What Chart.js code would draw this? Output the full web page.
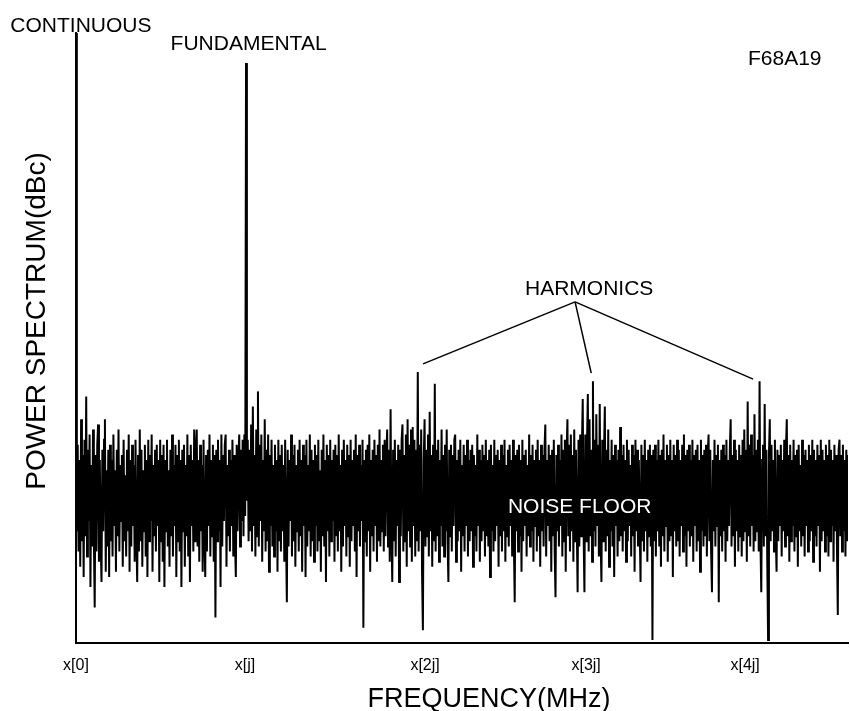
<!DOCTYPE html>
<html><head><meta charset="utf-8">
<script src="https://cdn.jsdelivr.net/npm/chart.js@4.4.1/dist/chart.umd.min.js"></script>
<style>html,body{margin:0;padding:0;background:#fff;}#wrap{width:850px;height:711px;position:relative;}</style>
</head><body><div id="wrap"><canvas id="c" width="850" height="711"></canvas></div>
<script>
// x axis in FFT bins (j = 100 bins), two samples per bin; y axis in dBc
const binMax = 454;
const samplesPerBin = 2;
const tickBins = [0, 99.4, 205.3, 300, 393.5];
const tickLabels = ['x[0]', 'x[j]', 'x[2j]', 'x[3j]', 'x[4j]'];
const yMin = -120, yMax = 0;

const powerDbc = [
 0,-98,-81,-102,-84,-105,-76,-100,-83,-107,-80,-99,-71.5,-103,-82,-96,-79,-109,-85,-101,
 -78,-99,-113,-83,-102,-81,-77,-104,-84,-100,-108,-82,-98,-80,-76,-106,-86,-101,-82,-107,
 -81,-100,-84,-103,-79,-97,-86,-106,-82,-99,-78,-102,-85,-96,-83,-105,-80,-100,-87,-103,
 -82,-98,-79,-106,-84,-101,-81,-97,-85,-104,-80,-99,-108,-83,-102,-78,-100,-82,-105,-86,
 -98,-81,-103,-84,-107,-80,-100,-83,-96,-79,-106,-85,-99,-82,-102,-81,-97,-84,-108,-80,
 -100,-83,-104,-81,-109,-84,-98,-80,-101,-86,-105,-82,-99,-79,-103,-85,-97,-81,-107,-83,
 -100,-80,-102,-84,-109,-82,-98,-81,-105,-85,-99,-79,-103,-83,-108,-81,-97,-84,-102,-78,
 -100,-82,-78,-101,-84,-104,-81,-98,-85,-106,-80,-99,-107,-83,-102,-82,-97,-79,-103,-84,
 -99,-81,-104,-83,-115,-82,-100,-80,-98,-84,-109,-79,-101,-83,-96,-81,-79,-105,-85,-99,
 -82,-102,-84,-97,-80,-103,-83,-100,-107,-81,-98,-84,-79,-101,-82,-96,-80,-99,-79,-95,
 -5.9,-92,-80,-100,-82,-98,-77,-102,-73.5,-97,-83,-103,-78,-99,-70.5,-101,-81,-96,-79,-104,
 -84,-98,-76,-102,-82,-100,-79,-106,-83,-97,-80,-101,-85,-103,-81,-98,-84,-106,-80,-100,
 -83,-102,-81,-98,-85,-104,-80,-99,-112,-82,-101,-84,-96,-79,-103,-83,-100,-81,-105,-85,
 -98,-82,-102,-80,-99,-84,-106,-81,-97,-83,-107,-80,-101,-85,-98,-79,-103,-82,-100,-84,
 -104,-81,-97,-83,-102,-80,-100,-86,-106,-82,-99,-79,-101,-84,-108,-81,-98,-83,-103,-80,
 -100,-84,-96,-82,-104,-81,-99,-83,-102,-79,-98,-85,-106,-82,-101,-80,-97,-84,-103,-81,
 -99,-83,-105,-80,-100,-84,-97,-82,-102,-79,-107,-83,-98,-81,-101,-85,-96,-80,-117,-84,
 -100,-82,-103,-81,-98,-79,-106,-84,-99,-82,-102,-80,-97,-83,-104,-81,-100,-78,-101,-84,
 -98,-81,-102,-80,-99,-83,-78,-101,-82,-104,-74,-98,-108,-82,-100,-80,-103,-84,-97,-81,
 -108,-82,-99,-80,-77,-102,-83,-100,-79,-105,-76,-98,-81,-101,-78,-104,-77.5,-97,-80,-103,
 -82,-100,-66.7,-102,-81,-98,-78,-106,-117.5,-84,-76,-101,-82,-99,-79,-103,-74.5,-98,-83,-105,
 -81,-100,-69,-102,-82,-99,-80,-104,-84,-97,-78,-101,-83,-103,-81,-98,-78,-100,-108,-82,
 -99,-81,-102,-83,-97,-80,-79,-104,-84,-100,-82,-98,-80,-106,-85,-99,-81,-102,-83,-97,
 -80,-103,-84,-100,-82,-98,-81,-105,-83,-99,-85,-102,-79,-97,-82,-104,-84,-100,-81,-98,
 -83,-103,-80,-99,-84,-101,-82,-107,-81,-98,-85,-102,-80,-100,-83,-97,-82,-105,-84,-99,
 -81,-102,-83,-98,-80,-104,-85,-99,-82,-101,-81,-97,-84,-103,-80,-100,-112,-83,-98,-82,
 -102,-81,-99,-84,-106,-80,-100,-83,-97,-82,-103,-85,-99,-79,-101,-83,-98,-81,-104,-84,
 -97,-82,-102,-80,-99,-84,-105,-81,-98,-83,-101,-82,-77,-103,-84,-97,-81,-100,-83,-106,
 -82,-99,-80,-102,-111,-83,-98,-81,-101,-84,-97,-79,-103,-82,-100,-80,-106,-83,-76,-99,
 -81,-102,-79,-98,-83,-104,-78,-100,-82,-97,-110,-80,-101,-79,-99,-82,-72,-98,-110,-79,
 -100,-81,-71,-102,-76,-99,-82,-104,-68.5,-98,-80,-101,-75,-97,-81,-103,-73,-99,-108,-80,
 -100,-83,-73.5,-102,-82,-99,-78,-105,-84,-98,-80,-101,-83,-107,-81,-97,-84,-103,-82,-100,
 -77.5,-99,-83,-102,-81,-98,-84,-104,-80,-100,-82,-97,-85,-103,-81,-99,-83,-106,-80,-98,
 -82,-101,-84,-97,-108,-81,-100,-83,-102,-80,-98,-84,-104,-82,-99,-81,-101,-83,-119.4,-82,
 -100,-81,-103,-84,-98,-80,-101,-83,-105,-82,-99,-79,-102,-84,-97,-81,-104,-83,-100,-80,
 -99,-84,-107,-81,-98,-83,-101,-80,-100,-82,-103,-84,-97,-81,-102,-79,-99,-83,-105,-82,
 -98,-81,-101,-84,-99,-80,-104,-83,-97,-82,-102,-81,-100,-84,-106,-80,-98,-83,-101,-82,
 -99,-81,-103,-83,-79,-100,-82,-102,-110,-84,-98,-80,-101,-83,-97,-81,-112,-84,-99,-82,
 -102,-81,-98,-83,-104,-80,-100,-84,-97,-82,-76,-101,-83,-99,-80,-105,-82,-98,-84,-102,
 -81,-99,-83,-103,-80,-100,-78,-98,-82,-104,-72.5,-99,-81,-101,-79,-97,-83,-102,-75,-100,
 -82,-98,-80,-102,-68.5,-100,-110,-84,-81,-101,-73,-99,-82,-103,-119.4,-83,-76,-100,-81,-98,
 -84,-102,-80,-99,-106,-82,-100,-83,-97,-81,-103,-84,-98,-80,-101,-82,-76,-99,-83,-104,
 -81,-100,-84,-97,-80,-102,-83,-99,-82,-105,-81,-98,-85,-101,-80,-99,-83,-103,-82,-97,
 -84,-102,-81,-100,-83,-98,-80,-104,-82,-99,-84,-101,-81,-97,-83,-106,-80,-100,-82,-98,
 -84,-102,-81,-99,-83,-103,-80,-100,-82,-97,-84,-104,-81,-98,-83,-101,-114.5,-82,-80,-99,
 -83,-102,-81,-98,-84,-103,-82,-100,-83
];

// annotation texts anchored in data coordinates (bin, dBc of text baseline)
const noteTexts = ['CONTINUOUS', 'FUNDAMENTAL', 'F68A19', 'HARMONICS', 'NOISE FLOOR'];
const noteBins  = [2.9, 101.5, 416.8, 301.8, 296.2];
const noteDbc   = [0.2, -3.34, -6.3, -51.5, -94.4];
const noteColor = ['#000', '#000', '#000', '#000', '#fff'];
// harmonic pointer lines: apex then three targets
const pointerBins = [293.5, 204.1, 303, 398.2];
const pointerDbc  = [-52.9, -65.1, -66.9, -68.1];

const xTitle = 'FREQUENCY(MHz)';
const yTitle = 'POWER SPECTRUM(dBc)';
const FONT = '"Liberation Sans", Arial, Helvetica, sans-serif';

const annotPlugin = {
  id: 'annot',
  afterDraw(chart) {
    const {ctx, chartArea, scales: {x, y}} = chart;
    ctx.save();
    ctx.textAlign = 'center';
    ctx.textBaseline = 'alphabetic';
    ctx.font = '21px ' + FONT;
    noteTexts.forEach((t, i) => {
      ctx.fillStyle = noteColor[i];
      ctx.fillText(t, x.getPixelForValue(noteBins[i]), y.getPixelForValue(noteDbc[i]));
    });
    ctx.strokeStyle = '#000';
    ctx.lineWidth = 1.5;
    const ax = x.getPixelForValue(pointerBins[0]), ay = y.getPixelForValue(pointerDbc[0]);
    for (let i = 1; i < pointerBins.length; i++) {
      ctx.beginPath();
      ctx.moveTo(ax, ay);
      ctx.lineTo(x.getPixelForValue(pointerBins[i]), y.getPixelForValue(pointerDbc[i]));
      ctx.stroke();
    }
    ctx.fillStyle = '#000';
    ctx.font = '27px ' + FONT;
    ctx.fillText(xTitle, chartArea.left + 413, chartArea.bottom + 64);
    ctx.translate(chartArea.left - 31, 321);
    ctx.rotate(-Math.PI / 2);
    ctx.font = '28px ' + FONT;
    ctx.fillText(yTitle, 0, 0);
    ctx.restore();
  }
};

new Chart(document.getElementById('c'), {
  type: 'line',
  data: {
    datasets: [{
      data: powerDbc.map((v, i) => ({x: i / samplesPerBin, y: v})),
      borderColor: '#000',
      borderWidth: 2,
      pointRadius: 0,
      tension: 0,
      fill: false
    }]
  },
  options: {
    responsive: false,
    animation: false,
    layout: {padding: {top: 33, right: 2, left: 0, bottom: 0}},
    plugins: {legend: {display: false}, tooltip: {enabled: false}, title: {display: false}},
    scales: {
      x: {
        type: 'linear', min: 0, max: binMax,
        afterFit(s) { s.height = 68; },
        afterBuildTicks(s) { s.ticks = tickBins.map(v => ({value: v})); },
        ticks: {
          autoSkip: false, maxRotation: 0, minRotation: 0, padding: 13,
          color: '#000', font: {family: FONT, size: 16},
          callback: (v, i) => tickLabels[i]
        },
        grid: {display: false, drawTicks: false},
        border: {display: true, color: '#000', width: 2}
      },
      y: {
        type: 'linear', min: yMin, max: yMax,
        afterFit(s) { s.width = 76; },
        ticks: {display: false},
        grid: {display: false, drawTicks: false},
        border: {display: true, color: '#000', width: 2}
      }
    }
  },
  plugins: [annotPlugin]
});
</script>
</body></html>
